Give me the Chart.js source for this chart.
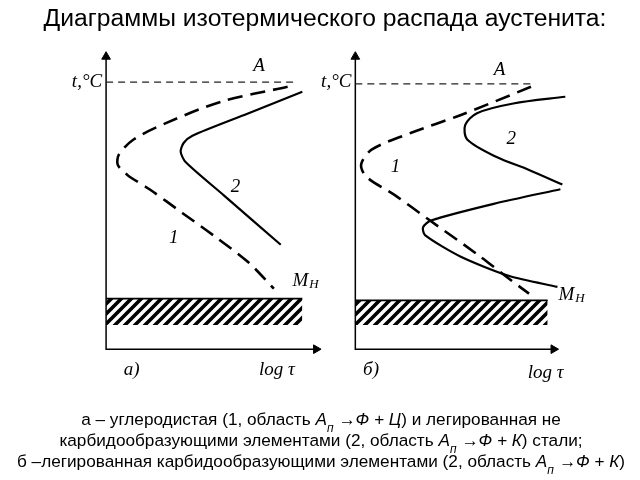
<!DOCTYPE html>
<html>
<head>
<meta charset="utf-8">
<script src="https://cdn.jsdelivr.net/npm/chart.js@4/dist/chart.umd.min.js"></script>
<style>
html, body { margin: 0; padding: 0; background: #fff; }
#wrap { position: relative; width: 640px; height: 480px; overflow: hidden; }
#c { position: absolute; left: 0; top: 0; }
#title { position: absolute; left: 0; top: 4px; width: 650px; text-align: center;
  font: 24.7px "Liberation Sans", Arial, sans-serif; color: #000; }
#cap { position: absolute; left: 0; top: 409px; width: 642px; text-align: center;
  font: 17.2px/21px "Liberation Sans", Arial, sans-serif; color: #000; }
#cap i sub { font-size: 12px; line-height: 0; vertical-align: -7px; }
</style>
</head>
<body>
<div id="wrap">
  <canvas id="c" width="640" height="480"></canvas>
  <div id="title">Диаграммы изотермического распада аустенита:</div>
  <div id="cap">а – углеродистая (1, область <i>A<sub>п</sub> →Ф + Ц</i>) и легированная не<br>карбидообразующими элементами (2, область <i>A<sub>п</sub> →Ф + К</i>) стали;<br>б –легированная карбидообразующими элементами (2, область <i>A<sub>п</sub> →Ф + К</i>)</div>
</div>
<script>
// units: x = log t, y = temperature (arbitrary, schematic)
// panel a)
const curve1A = [[92.5,89.7],[59,84.7],[30.5,77.3],[14,71.7],[6.5,66.5],[6,63],[11,59.5],[22.5,54.5],[39,46.5],[55.5,38.5],[72.5,29.7],[85.5,20.7]];
const curve2A = [[100,88],[72,80.5],[44,73],[39.5,70.5],[38,67.5],[40.5,64],[60,52.6],[89,35.7]];
// panel б)
const curve1B = [[89.5,89.7],[53.5,80],[28.5,74],[8.5,68.3],[3,63.3],[5.5,59],[20.5,52.5],[37,44.5],[62,32.5],[78.5,24],[88.5,19]];
const curve2B = [[107,86.3],[80.5,84],[62,80.7],[56,76.7],[57,71.7],[72,65.7],[88.5,61.3],[105.5,56.3]];
const curve3B = [[104.5,54.7],[70.5,49.7],[38.5,44],[34.5,41.7],[35.5,39],[53.5,31.7],[78.5,25],[103,21.3]];
// A1 line, martensite zone (Mн), axis ends
const tempA = [91.3, 90.7];
const endA = [95.5, 89.5];
const martTop = [17.3, 16.7];
const martBottom = [8.3, 8.3];
const martEnd = [100, 98];
const axisEndX = [107, 101];
const axisEndY = 100;

const notes = [
  {axis:'xa', x:-2, y:91.3, text:'t,°C', align:'right'},
  {axis:'xa', x:78, y:96.7, text:'A'},
  {axis:'xa', x:34.5, y:38, text:'1'},
  {axis:'xa', x:66, y:55.3, text:'2'},
  {axis:'xa', x:95, y:23.3, text:'M', sub:'Н', align:'left'},
  {axis:'xa', x:13, y:-7, text:'а)'},
  {axis:'xa', x:87, y:-7, text:'log τ'},
  {axis:'xb', x:-2, y:91.3, text:'t,°C', align:'right'},
  {axis:'xb', x:73.5, y:95.3, text:'A'},
  {axis:'xb', x:20.5, y:62.3, text:'1'},
  {axis:'xb', x:79.5, y:71.7, text:'2'},
  {axis:'xb', x:103.5, y:18.7, text:'M', sub:'Н', align:'left'},
  {axis:'xb', x:8, y:-7, text:'б)'},
  {axis:'xb', x:97, y:-8.3, text:'log τ'}
];

const pts = a => a.map(p => ({x: p[0], y: p[1]}));

// hatch pattern for martensite zone
const hc = document.createElement('canvas');
hc.width = 10; hc.height = 10;
const hx = hc.getContext('2d');
hx.strokeStyle = '#000'; hx.lineWidth = 3.6;
hx.beginPath();
hx.moveTo(-2, 12); hx.lineTo(12, -2);
hx.moveTo(-2, 2); hx.lineTo(2, -2);
hx.moveTo(8, 12); hx.lineTo(12, 8);
hx.stroke();
const hatch = document.getElementById('c').getContext('2d').createPattern(hc, 'repeat');

const datasets = [];
['xa', 'xb'].forEach((ax, i) => {
  datasets.push({
    data: [{x: 0, y: martTop[i]}, {x: martEnd[i], y: martTop[i]}],
    xAxisID: ax, borderColor: '#000', borderWidth: 1.8,
    backgroundColor: hatch, fill: {value: martBottom[i]}, pointRadius: 0
  });
  datasets.push({
    data: [{x: 0, y: tempA[i]}, {x: endA[i], y: tempA[i]}],
    xAxisID: ax, borderColor: '#222', borderWidth: 1.3, borderDash: [7, 5], pointRadius: 0
  });
  datasets.push({
    data: [{x: 0, y: axisEndY}, {x: 0, y: 0}, {x: axisEndX[i], y: 0}],
    xAxisID: ax, borderColor: '#000', borderWidth: 1.5,
    pointStyle: 'triangle', pointRadius: [5, 0, 5], pointRotation: [0, 0, 90],
    pointBackgroundColor: '#000', pointBorderColor: '#000', pointBorderWidth: 1
  });
});
datasets.push({data: pts(curve1A), xAxisID: 'xa', borderColor: '#000', borderWidth: 2.6, borderDash: [15, 8], tension: 0.3, pointRadius: 0});
datasets.push({data: pts(curve2A), xAxisID: 'xa', borderColor: '#000', borderWidth: 2.2, tension: 0.25, pointRadius: 0});
datasets.push({data: pts(curve1B), xAxisID: 'xb', borderColor: '#000', borderWidth: 2.6, borderDash: [15, 8], tension: 0.3, pointRadius: 0});
datasets.push({data: pts(curve2B), xAxisID: 'xb', borderColor: '#000', borderWidth: 2.2, tension: 0.3, pointRadius: 0});
datasets.push({data: pts(curve3B), xAxisID: 'xb', borderColor: '#000', borderWidth: 2.2, tension: 0.25, pointRadius: 0});

const texts = {
  id: 'texts',
  afterDatasetsDraw(chart) {
    const ctx = chart.ctx, ys = chart.scales.y;
    ctx.save();
    ctx.fillStyle = '#000';
    ctx.textBaseline = 'middle';
    notes.forEach(n => {
      const px = chart.scales[n.axis].getPixelForValue(n.x);
      const py = ys.getPixelForValue(n.y);
      ctx.font = 'italic 19px "Liberation Serif", "DejaVu Serif", serif';
      ctx.textAlign = n.align || 'center';
      ctx.fillText(n.text, px, py);
      if (n.sub) {
        const w = ctx.measureText(n.text).width;
        ctx.font = 'italic 13px "Liberation Serif", "DejaVu Serif", serif';
        ctx.textAlign = 'left';
        ctx.fillText(n.sub, px + w + 1, py + 4);
      }
    });
    ctx.restore();
  }
};

new Chart(document.getElementById('c'), {
  type: 'scatter',
  data: {datasets: datasets},
  options: {
    responsive: false,
    animation: false,
    showLine: true,
    layout: {padding: 0},
    plugins: {legend: {display: false}, tooltip: {enabled: false}},
    scales: {
      xa: {type: 'linear', display: false, min: -51, max: 269},
      xb: {type: 'linear', display: false, min: -178, max: 142},
      y: {type: 'linear', display: false, min: -42.667, max: 117.333}
    }
  },
  plugins: [texts]
});
</script>
</body>
</html>
